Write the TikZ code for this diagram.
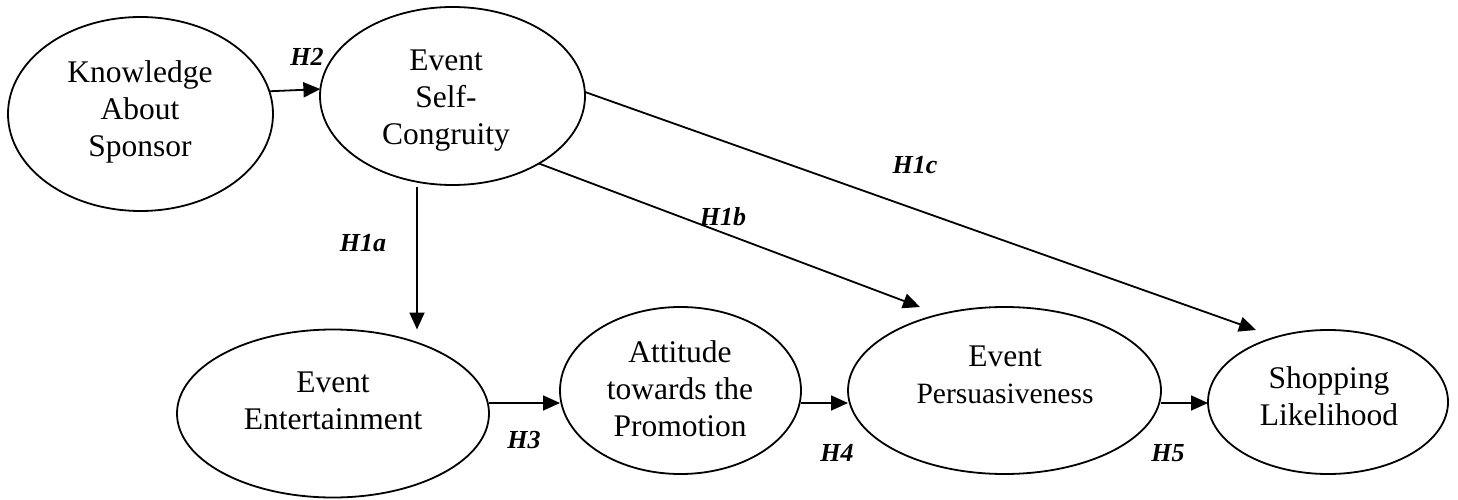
\documentclass[tikz,border=0pt]{standalone}
\usepackage{fontspec}
\setmainfont{Liberation Serif}
\usetikzlibrary{shapes.geometric,arrows.meta}
\begin{document}
\begin{tikzpicture}[x=1pt,y=-1pt,
  ell/.style={ellipse,draw,line width=1.8pt,inner sep=0pt,outer sep=0pt},
  txt/.style={align=center,inner sep=0pt,font=\fontsize{31.5}{37}\selectfont},
  hyp/.style={inner sep=0pt,font=\fontsize{26}{30}\selectfont\bfseries\itshape},
  arr/.style={line width=1.8pt,-{Triangle[length=17pt,width=15pt]}}]
\useasboundingbox (0,0) rectangle (1458,500);
% ellipses
\node[ell,minimum width=265pt,minimum height=194pt] (know) at (140.5,114) {};
\node[ell,minimum width=265pt,minimum height=178pt] (sc) at (452.5,96) {};
\node[ell,minimum width=312pt,minimum height=168pt] (ent) at (333,413.5) {};
\node[ell,minimum width=241pt,minimum height=167pt] (att) at (680.5,390.5) {};
\node[ell,minimum width=313pt,minimum height=167pt] (pers) at (1004.5,390.5) {};
\node[ell,minimum width=240pt,minimum height=144pt] (shop) at (1328,402) {};
% texts
\node[txt] (knowt) at (140,112) {Knowledge\\About\\Sponsor};
\node[txt] (sct) at (446,101) {Event\\Self-\\Congruity};
\node[txt] (entt) at (333,401) {Event\\Entertainment};
\node[txt] (attt) at (680,389) {Attitude\\towards the\\Promotion};
\node[txt] (perst) at (1005,375) {Event\\{\fontsize{29.5}{37}\selectfont Persuasiveness}};
\node[txt] (shopt) at (1329,396) {Shopping\\Likelihood};
% connectors
\draw[arr] (know.10.6) -- (sc.177.4);
\draw[arr] ([xshift=-35.5pt,yshift=-2pt]sc.south) -- ([xshift=84pt]ent.north);
\draw[arr] (sc.-38.4) -- ([xshift=-84.5pt]pers.north);
\draw[arr] ([yshift=4pt]sc.east) -- ([xshift=-72pt]shop.north);
\draw[arr] ([yshift=10.5pt]ent.east) -- ([yshift=-12.5pt]att.west);
\draw[arr] ([yshift=-12.5pt]att.east) -- ([yshift=-12.5pt]pers.west);
\draw[arr] ([yshift=-12.5pt]pers.east) -- ([yshift=-1pt]shop.west);
% hypothesis labels
\node[hyp] (h2) at (307,57) {H2};
\node[hyp] (h1a) at (363,243) {H1a};
\node[hyp] (h1b) at (723,217) {H1b};
\node[hyp] (h1c) at (915,165) {H1c};
\node[hyp] (h3) at (524,440) {H3};
\node[hyp] (h4) at (837,453) {H4};
\node[hyp] (h5) at (1168,453) {H5};
\end{tikzpicture}
\end{document}
